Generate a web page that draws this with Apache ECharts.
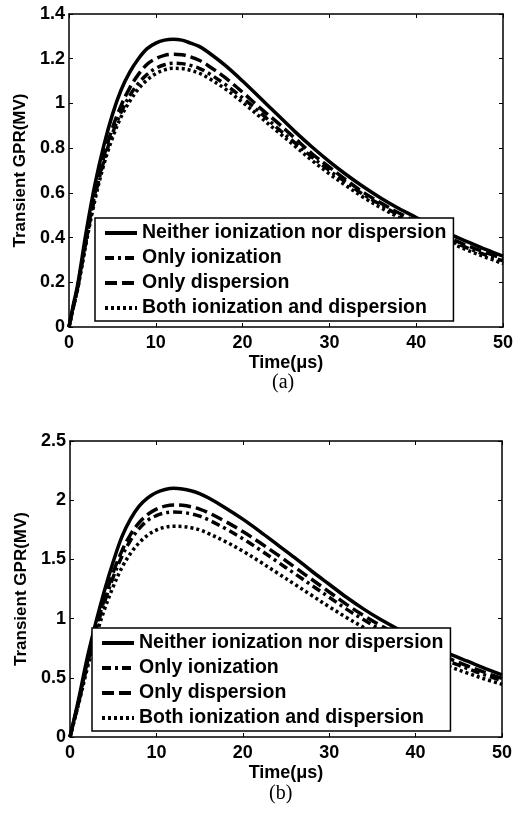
<!DOCTYPE html>
<html>
<head>
<meta charset="utf-8">
<script src="https://cdn.jsdelivr.net/npm/echarts@6/dist/echarts.min.js"></script>
<style>
  html, body { margin: 0; padding: 0; background: #fff; }
  #chart { width: 521px; height: 816px; }
</style>
</head>
<body>
<div id="chart"></div>
<script>
// Sample times (microseconds)
var time = [0, 0.5, 1, 2, 3, 4, 5, 6, 7, 8, 9, 10, 11, 12, 13, 14, 15, 16,
            18, 20, 22, 24, 26, 28, 30, 32, 34, 36, 38, 40, 42, 44, 46, 48, 50];

var seriesNames = [
  'Neither ionization nor dispersion',
  'Only ionization',
  'Only dispersion',
  'Both ionization and dispersion'
];

// Case (a): transient GPR in MV
var aNeither = [0, 0.10, 0.19, 0.43, 0.64, 0.81, 0.95, 1.06, 1.14, 1.20, 1.245, 1.27, 1.283, 1.287, 1.283, 1.27, 1.255, 1.23,
                1.17, 1.10, 1.025, 0.95, 0.875, 0.805, 0.74, 0.68, 0.625, 0.575, 0.53, 0.49, 0.45, 0.413, 0.38, 0.347, 0.317];
var aIonization = [0, 0.09, 0.175, 0.39, 0.585, 0.74, 0.865, 0.96, 1.035, 1.09, 1.13, 1.157, 1.173, 1.18, 1.178, 1.17, 1.157, 1.137,
                   1.085, 1.025, 0.96, 0.89, 0.825, 0.76, 0.70, 0.645, 0.59, 0.545, 0.50, 0.46, 0.42, 0.385, 0.352, 0.322, 0.296];
var aDispersion = [0, 0.09, 0.18, 0.40, 0.60, 0.76, 0.89, 0.99, 1.07, 1.13, 1.175, 1.20, 1.215, 1.22, 1.218, 1.208, 1.193, 1.17,
                   1.115, 1.05, 0.98, 0.915, 0.845, 0.775, 0.715, 0.655, 0.60, 0.553, 0.51, 0.47, 0.43, 0.395, 0.362, 0.333, 0.306];
var aBoth = [0, 0.088, 0.17, 0.38, 0.57, 0.725, 0.845, 0.94, 1.01, 1.065, 1.105, 1.133, 1.15, 1.157, 1.156, 1.148, 1.135, 1.115,
             1.065, 1.005, 0.94, 0.875, 0.81, 0.745, 0.685, 0.63, 0.578, 0.532, 0.49, 0.45, 0.41, 0.375, 0.342, 0.312, 0.284];

// Case (b): transient GPR in MV
var bNeither = [0, 0.16, 0.32, 0.67, 0.97, 1.24, 1.48, 1.69, 1.84, 1.95, 2.02, 2.065, 2.09, 2.10, 2.095, 2.08, 2.055, 2.02,
                1.935, 1.84, 1.735, 1.625, 1.515, 1.40, 1.29, 1.18, 1.08, 0.99, 0.91, 0.835, 0.765, 0.70, 0.64, 0.58, 0.525];
var bIonization = [0, 0.145, 0.29, 0.61, 0.90, 1.14, 1.35, 1.525, 1.66, 1.76, 1.83, 1.87, 1.893, 1.90, 1.897, 1.885, 1.865, 1.835,
                   1.76, 1.675, 1.58, 1.48, 1.38, 1.28, 1.18, 1.08, 0.99, 0.905, 0.83, 0.76, 0.695, 0.635, 0.578, 0.525, 0.475];
var bDispersion = [0, 0.15, 0.30, 0.63, 0.92, 1.17, 1.39, 1.57, 1.71, 1.81, 1.88, 1.925, 1.95, 1.96, 1.957, 1.945, 1.925, 1.895,
                   1.82, 1.735, 1.64, 1.54, 1.435, 1.33, 1.225, 1.12, 1.025, 0.94, 0.86, 0.79, 0.72, 0.66, 0.60, 0.545, 0.495];
var bBoth = [0, 0.14, 0.28, 0.58, 0.85, 1.08, 1.27, 1.43, 1.55, 1.64, 1.705, 1.748, 1.772, 1.78, 1.778, 1.768, 1.75, 1.72,
             1.65, 1.57, 1.48, 1.385, 1.29, 1.195, 1.10, 1.01, 0.925, 0.845, 0.775, 0.71, 0.65, 0.592, 0.54, 0.49, 0.445];

// Axis ticks
var xTicks = [0, 10, 20, 30, 40, 50];
var yTicksA = [0, 0.2, 0.4, 0.6, 0.8, 1, 1.2, 1.4];
var yTicksB = [0, 0.5, 1, 1.5, 2, 2.5];

var FONT = 'Liberation Sans, Arial, sans-serif';
var dashStyles = ['solid', [9, 4, 3, 4], [12, 5], [3, 3]];

function pairs(vals) {
  return time.map(function (t, i) { return [t, vals[i]]; });
}

function makeSeries(list, xIdx, yIdx) {
  return list.map(function (vals, k) {
    return {
      name: seriesNames[k],
      type: 'line',
      xAxisIndex: xIdx,
      yAxisIndex: yIdx,
      data: pairs(vals),
      smooth: 0.35,
      symbol: 'none',
      showSymbol: false,
      lineStyle: { color: '#000', width: 3.5, type: dashStyles[k], cap: 'butt' },
      itemStyle: { color: '#000' },
      z: 2
    };
  });
}

function xAxes(gridIdx) {
  return [{
    type: 'value', gridIndex: gridIdx, position: 'bottom',
    min: xTicks[0], max: xTicks[xTicks.length - 1], interval: xTicks[1] - xTicks[0],
    name: 'Time(\u03bcs)', nameLocation: 'middle', nameGap: 27,
    nameTextStyle: { color: '#000', fontFamily: FONT, fontWeight: 'bold', fontSize: 18 },
    axisLine: { show: true, onZero: false, lineStyle: { color: '#000', width: 1.5 } },
    axisTick: { show: true, inside: true, length: 4, lineStyle: { color: '#000', width: 1 } },
    axisLabel: { color: '#000', fontFamily: FONT, fontWeight: 'bold', fontSize: 18, margin: 7 },
    splitLine: { show: false }
  }, {
    type: 'value', gridIndex: gridIdx, position: 'top',
    min: xTicks[0], max: xTicks[xTicks.length - 1], interval: xTicks[1] - xTicks[0],
    axisLine: { show: true, onZero: false, lineStyle: { color: '#000', width: 1.5 } },
    axisTick: { show: true, inside: true, length: 4, lineStyle: { color: '#000', width: 1 } },
    axisLabel: { show: false },
    splitLine: { show: false }
  }];
}

function yAxes(gridIdx, ticks) {
  var step = ticks[1] - ticks[0];
  return [{
    type: 'value', gridIndex: gridIdx, position: 'left',
    min: ticks[0], max: ticks[ticks.length - 1], interval: step,
    name: 'Transient GPR(MV)', nameLocation: 'middle', nameGap: 29,
    nameTextStyle: { color: '#000', fontFamily: FONT, fontWeight: 'bold', fontSize: 17 },
    axisLine: { show: true, onZero: false, lineStyle: { color: '#000', width: 1.5 } },
    axisTick: { show: true, inside: true, length: 4, lineStyle: { color: '#000', width: 1 } },
    axisLabel: { color: '#000', fontFamily: FONT, fontWeight: 'bold', fontSize: 18, margin: 4 },
    splitLine: { show: false }
  }, {
    type: 'value', gridIndex: gridIdx, position: 'right',
    min: ticks[0], max: ticks[ticks.length - 1], interval: step,
    axisLine: { show: true, onZero: false, lineStyle: { color: '#000', width: 1.5 } },
    axisTick: { show: true, inside: true, length: 4, lineStyle: { color: '#000', width: 1 } },
    axisLabel: { show: false },
    splitLine: { show: false }
  }];
}

function legendAt(left, top) {
  return {
    data: seriesNames,
    orient: 'vertical',
    left: left, top: top,
    selectedMode: false,
    backgroundColor: '#fff',
    borderColor: '#000', borderWidth: 1.5,
    padding: [5, 7, 3, 8],
    itemGap: 5,
    itemWidth: 32, itemHeight: 14,
    itemStyle: { color: 'rgba(0,0,0,0)', borderWidth: 0, opacity: 0 },
    lineStyle: { width: 4, color: '#000' },
    textStyle: { color: '#000', fontFamily: FONT, fontWeight: 'bold', fontSize: 19.5, lineHeight: 20 },
    z: 10
  };
}

var chart = echarts.init(document.getElementById('chart'), null, { renderer: 'canvas' });

chart.setOption({
  backgroundColor: '#fff',
  animation: false,
  grid: [
    { left: 69, top: 14, width: 434, height: 313 },
    { left: 70, top: 441, width: 432, height: 296 }
  ],
  xAxis: xAxes(0).concat(xAxes(1)),
  yAxis: yAxes(0, yTicksA).concat(yAxes(1, yTicksB)),
  legend: [legendAt(95, 218), legendAt(92, 628)],
  series: makeSeries([aNeither, aIonization, aDispersion, aBoth], 0, 0)
    .concat(makeSeries([bNeither, bIonization, bDispersion, bBoth], 2, 2)),
  graphic: [
    { type: 'text', left: 272, top: 373,
      style: { text: '(a)', fill: '#000', font: '20px "Liberation Serif", "Times New Roman", serif' } },
    { type: 'text', left: 269, top: 784,
      style: { text: '(b)', fill: '#000', font: '20px "Liberation Serif", "Times New Roman", serif' } }
  ]
});
</script>
</body>
</html>
